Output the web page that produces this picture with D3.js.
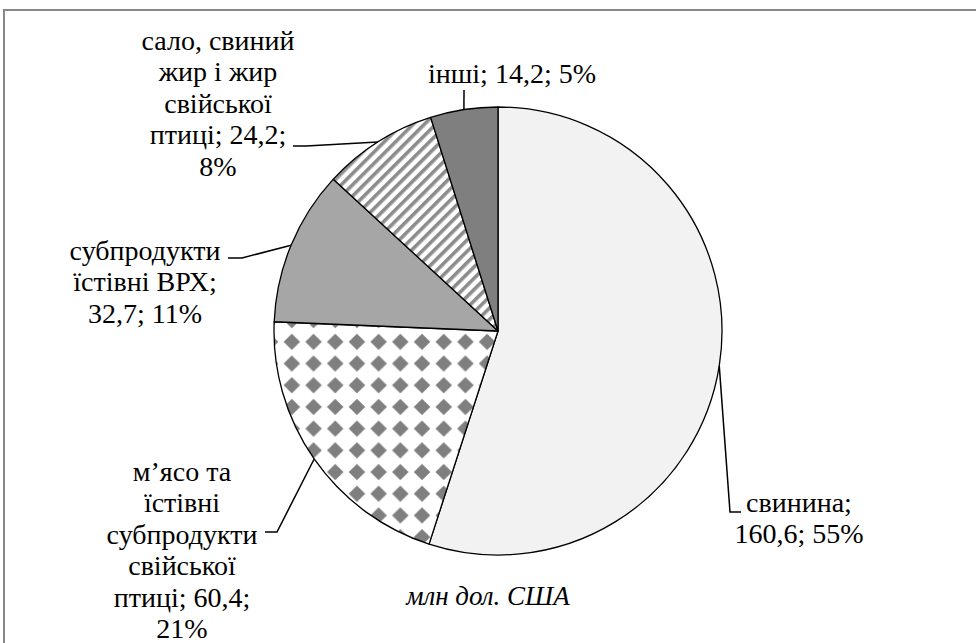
<!DOCTYPE html>
<html>
<head>
<meta charset="utf-8">
<script src="https://cdn.jsdelivr.net/npm/d3@7"></script>
</head>
<body style="margin:0">
<div id="chart"></div>
<script>
var w = 976;
var h = 643;

// data
var categories = ["свинина", "м’ясо та їстівні субпродукти свійської птиці", "субпродукти їстівні ВРХ", "сало, свиний жир і жир свійської птиці", "інші"];
var values = [160.6, 60.4, 32.7, 24.2, 14.2];
var percents = [55, 21, 11, 8, 5];
var labelLines = [
  ["свинина;", "160,6; 55%"],
  ["м’ясо та", "їстівні", "субпродукти", "свійської", "птиці; 60,4;", "21%"],
  ["субпродукти", "їстівні ВРХ;", "32,7; 11%"],
  ["сало, свиний", "жир і жир", "свійської", "птиці; 24,2;", "8%"],
  ["інші; 14,2; 5%"]
];
var unitTitle = "млн дол. США";

// layout of the labels and their leader lines
var fills = ["#f2f2f2", "url(#diamonds)", "#a6a6a6", "url(#stripes)", "#7f7f7f"];
var labelLayout = [
  { x: 799, y: 512, elbow: [730, 512], end: [741, 512] },
  { x: 182, y: 481, elbow: [277, 532], end: [265, 532] },
  { x: 145, y: 260, elbow: [242, 258], end: [228, 258] },
  { x: 218, y: 50, elbow: [306, 146], end: [293, 146] },
  { x: 512, y: 83, elbow: [464, 90], end: [464, 90] }
];
var lineH = 31.4;
var cx = 498, cy = 331, r = 224;

var svg = d3.select("#chart").append("svg")
  .attr("width", w).attr("height", h)
  .attr("font-family", "Liberation Serif, serif");

var defs = svg.append("defs");
var dia = defs.append("pattern")
  .attr("id", "diamonds")
  .attr("patternUnits", "userSpaceOnUse")
  .attr("width", 21.7).attr("height", 21.7);
dia.append("rect").attr("width", 21.7).attr("height", 21.7).attr("fill", "#fff");
dia.append("polygon")
  .attr("points", "10.85,2.6 19.1,10.85 10.85,19.1 2.6,10.85")
  .attr("fill", "#7f7f7f");

var str = defs.append("pattern")
  .attr("id", "stripes")
  .attr("patternUnits", "userSpaceOnUse")
  .attr("width", 8).attr("height", 8)
  .attr("patternTransform", "rotate(45)");
str.append("rect").attr("width", 8).attr("height", 8).attr("fill", "#fff");
str.append("rect").attr("width", 3.6).attr("height", 8).attr("fill", "#8c8c8c");

// frame
svg.append("rect")
  .attr("x", 4).attr("y", 10)
  .attr("width", 1000).attr("height", 1000)
  .attr("fill", "none")
  .attr("stroke", "#888")
  .attr("stroke-width", 2);

var pie = d3.pie().sort(null).value(function (d) { return d; });
var arcs = pie(values);
var arc = d3.arc().innerRadius(0).outerRadius(r);

var g = svg.append("g").attr("transform", "translate(" + cx + "," + cy + ")");

g.selectAll("path")
  .data(arcs)
  .enter()
  .append("path")
  .attr("d", arc)
  .attr("fill", function (d, i) { return fills[i]; })
  .attr("stroke", "#000")
  .attr("stroke-width", 1.3)
  .attr("stroke-linejoin", "round");

// leader lines from slice edge midpoint to label
svg.selectAll("polyline.leader")
  .data(arcs)
  .enter()
  .append("polyline")
  .attr("class", "leader")
  .attr("points", function (d, i) {
    var a = (d.startAngle + d.endAngle) / 2;
    var px = cx + r * Math.sin(a);
    var py = cy - r * Math.cos(a);
    var L = labelLayout[i];
    return [[px, py], L.elbow, L.end].map(function (p) { return p.join(","); }).join(" ");
  })
  .attr("fill", "none")
  .attr("stroke", "#000")
  .attr("stroke-width", 1.5);

var labels = svg.selectAll("text.label")
  .data(labelLines)
  .enter()
  .append("text")
  .attr("class", "label")
  .attr("font-family", "Liberation Serif, serif")
  .style("font-family", function () { return "'Liberation Serif'"; })
  .style("font-size", "28px")
  .attr("fill", "#000")
  .attr("text-anchor", "middle");

labels.each(function (lines, i) {
  var L = labelLayout[i];
  d3.select(this).selectAll("tspan")
    .data(lines)
    .enter()
    .append("tspan")
    .attr("x", L.x)
    .attr("y", function (d, j) { return L.y + j * lineH; })
    .text(function (d) { return d; });
});

svg.append("text")
  .attr("x", 488)
  .attr("y", 605)
  .attr("font-family", "Liberation Serif, serif")
  .style("font-family", function () { return "'Liberation Serif'"; })
  .style("font-size", "27px")
  .style("font-style", "italic")
  .attr("text-anchor", "middle")
  .text(unitTitle);
</script>
</body>
</html>
